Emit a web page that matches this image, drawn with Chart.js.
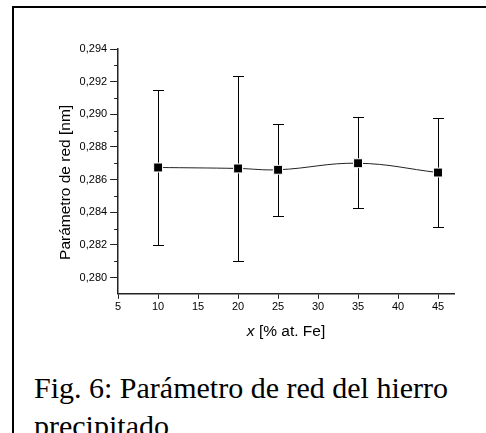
<!DOCTYPE html>
<html>
<head>
<meta charset="utf-8">
<script src="https://cdn.jsdelivr.net/npm/chart.js@4"></script>
<style>
  html, body { margin: 0; padding: 0; background: #fff; }
  body { width: 486px; height: 433px; overflow: hidden; position: relative; }
  .frame {
    position: absolute; left: 12px; top: 6px; width: 480px; height: 440px;
    border-left: 2px solid #000; border-top: 2px solid #000;
  }
  #wrap { position: absolute; left: 14px; top: 8px; width: 472px; height: 332px; }
  .caption {
    position: absolute; left: 34px; top: 369px; width: 450px;
    font-family: "Liberation Serif", "Times New Roman", serif;
    font-size: 30px; line-height: 38px; color: #000; white-space: normal;
  }
</style>
</head>
<body>
<div class="frame"></div>
<div id="wrap"><canvas id="chart"></canvas></div>
<div class="caption">Fig. 6: Parámetro de red del hierro precipitado</div>

<script>
// ── Data ──────────────────────────────────────────────────────────────────
const xValues = [10, 20, 25, 35, 45];
const latticeParam = [0.28674, 0.28668, 0.28660, 0.28700, 0.28643];
const errHigh = [0.29151, 0.29234, 0.28941, 0.28981, 0.28975];
const errLow  = [0.28199, 0.28102, 0.28378, 0.28423, 0.28311];
const xTicks = [5, 10, 15, 20, 25, 30, 35, 40, 45];
const yTicks = [0.280, 0.282, 0.284, 0.286, 0.288, 0.290, 0.292, 0.294];
const yMinorTicks = [0.281, 0.283, 0.285, 0.287, 0.289, 0.291, 0.293];

const SANS = '"Liberation Sans", Arial, sans-serif';

// ── Error bars, minor ticks, axis titles ──────────────────────────────────
const extras = {
  id: 'extras',
  beforeDatasetsDraw(chart) {
    const { ctx, scales: { x, y } } = chart;
    ctx.save();
    ctx.strokeStyle = '#000';
    ctx.lineWidth = 1;
    xValues.forEach((xv, i) => {
      const px = Math.round(x.getPixelForValue(xv)) + 0.5;
      const top = Math.round(y.getPixelForValue(errHigh[i])) + 0.5;
      const bot = Math.round(y.getPixelForValue(errLow[i])) + 0.5;
      ctx.beginPath();
      ctx.moveTo(px, top); ctx.lineTo(px, bot);
      ctx.moveTo(px - 5.5, top); ctx.lineTo(px + 5.5, top);
      ctx.moveTo(px - 5.5, bot); ctx.lineTo(px + 5.5, bot);
      ctx.stroke();
    });
    ctx.restore();
  },
  afterDraw(chart) {
    const { ctx, scales: { x, y } } = chart;
    ctx.save();
    ctx.strokeStyle = '#222';
    ctx.lineWidth = 1;
    yMinorTicks.forEach(v => {
      const py = Math.round(y.getPixelForValue(v)) + 0.5;
      ctx.beginPath();
      ctx.moveTo(y.right - 4, py); ctx.lineTo(y.right, py);
      ctx.stroke();
    });

    ctx.fillStyle = '#000';
    // y axis title, sits a bit below the middle of the axis
    ctx.save();
    ctx.font = '15.5px ' + SANS;
    ctx.textAlign = 'center';
    ctx.textBaseline = 'middle';
    ctx.translate(y.left - 11, (chart.chartArea.top + chart.chartArea.bottom) / 2 + 11);
    ctx.rotate(-Math.PI / 2);
    ctx.fillText('Parámetro de red [nm]', 0, 0);
    ctx.restore();

    // x axis title, the "x" in italics
    const cx = (chart.chartArea.left + chart.chartArea.right) / 2;
    const ty = x.bottom + 20;
    const rest = ' [% at. Fe]';
    ctx.textBaseline = 'alphabetic';
    ctx.font = 'italic 15.5px ' + SANS;
    const w1 = ctx.measureText('x').width;
    ctx.font = '15.5px ' + SANS;
    const w2 = ctx.measureText(rest).width;
    const sx = cx - (w1 + w2) / 2;
    ctx.font = 'italic 15.5px ' + SANS;
    ctx.fillText('x', sx, ty);
    ctx.font = '15.5px ' + SANS;
    ctx.fillText(rest, sx + w1, ty);
    ctx.restore();
  }
};

const tickFont = { family: SANS, size: 11 };

new Chart(document.getElementById('chart'), {
  type: 'line',
  data: {
    datasets: [{
      data: xValues.map((v, i) => ({ x: v, y: latticeParam[i] })),
      borderColor: '#222',
      borderWidth: 1,
      tension: 0.4,
      pointStyle: 'rect',
      pointRadius: 6.3,
      pointBackgroundColor: '#000',
      pointBorderColor: '#fff',
      pointBorderWidth: 1,
      fill: false
    }]
  },
  options: {
    responsive: true,
    maintainAspectRatio: false,
    animation: false,
    // left padding leaves room for the y title drawn in the plugin
    layout: { padding: { top: 41, right: 32, bottom: 24, left: 62.6 } },
    plugins: {
      legend: { display: false },
      tooltip: { enabled: false }
    },
    scales: {
      x: {
        type: 'linear',
        min: 5, max: 47,
        afterBuildTicks: s => { s.ticks = xTicks.map(v => ({ value: v })); },
        grid: { drawOnChartArea: false, tickLength: 5, color: '#222' },
        border: { color: '#222', width: 1.5 },
        ticks: { color: '#000', font: tickFont, padding: 2, maxRotation: 0 }
      },
      y: {
        min: 0.279, max: 0.294,
        afterBuildTicks: s => { s.ticks = yTicks.map(v => ({ value: v })); },
        grid: { drawOnChartArea: false, tickLength: 8, color: '#222' },
        border: { color: '#222', width: 1.5 },
        ticks: {
          color: '#000', font: tickFont, padding: 3,
          callback: v => v.toFixed(3).replace('.', ',')
        }
      }
    }
  },
  plugins: [extras]
});
</script>
</body>
</html>
